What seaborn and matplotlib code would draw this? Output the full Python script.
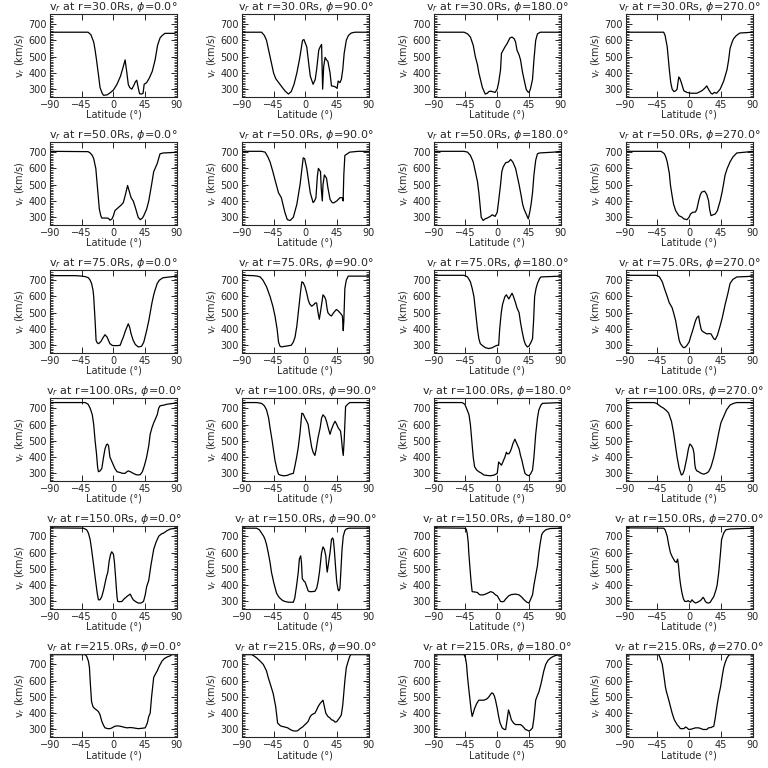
import pandas as pd
import matplotlib
matplotlib.use("Agg")
import matplotlib.pyplot as plt
import seaborn as sns
from matplotlib.ticker import MultipleLocator

# radial velocity profiles v_r(latitude), one list per panel
radii = [30, 50, 75, 100, 150, 215]
phis = [0, 90, 180, 270]

r30_phi0 = [(-90, 650), (-36, 650), (-32, 635), (-28, 590), (-26, 540), (-24, 480), (-21, 380), (-19, 310),
            (-16, 275), (-14, 262), (-9, 265), (-4, 280), (0, 295), (5, 330), (10, 380), (14, 440), (16.5, 480),
            (19, 400), (21, 330), (23, 310), (26, 300), (29, 325), (31, 345), (33, 355), (35.5, 300), (37, 272),
            (40, 270), (42, 275), (43.5, 330), (47, 340), (51, 370), (55, 410), (59, 480), (62.5, 570), (66, 615),
            (69, 630), (73, 643), (80, 643), (86, 643), (90, 650)]
r30_phi90 = [(-90, 650), (-62, 650), (-58, 630), (-55, 600), (-50, 500), (-45, 400), (-42, 365), (-36, 330),
             (-29, 290), (-24, 270), (-20, 285), (-16, 330), (-12, 400), (-8, 490), (-4, 600), (-2, 605), (2, 560),
             (5, 450), (7, 380), (11, 330), (14, 360), (16, 420), (19, 540), (21, 560), (23, 575), (24.5, 300),
             (26, 440), (28, 495), (30, 480), (32, 470), (35, 400), (37, 320), (40, 318), (42, 315), (45, 305),
             (46.5, 350), (49, 340), (51, 360), (53, 420), (55, 520), (58, 600), (61, 630), (65, 645), (70, 650),
             (90, 650)]
r30_phi180 = [(-90, 650), (-47, 650), (-42, 640), (-38, 620), (-34, 570), (-31, 500), (-28, 450), (-26, 400),
              (-21, 310), (-17, 270), (-14, 275), (-12, 285), (-9, 288), (-7, 285), (-3, 280), (0, 300), (2, 340),
              (4.7, 420), (6, 520), (8.5, 540), (11, 560), (14, 580), (18, 615), (21, 620), (24, 610), (26, 590),
              (28, 540), (31, 510), (33, 480), (36, 400), (38, 360), (41, 300), (43, 285), (45, 280), (47, 300),
              (50, 360), (52, 480), (54.5, 600), (57, 640), (61, 650), (90, 650)]
r30_phi270 = [(-90, 650), (-36, 650), (-34, 630), (-31, 560), (-28, 420), (-26, 340), (-24, 300), (-21.5, 285),
              (-19, 290), (-17, 300), (-15.5, 350), (-14.6, 375), (-13, 365), (-11, 340), (-7.5, 290), (-3, 280),
              (2, 275), (11, 275), (18, 290), (22, 305), (25, 320), (28, 295), (31, 275), (33, 270), (35.6, 280),
              (39, 275), (41, 285), (44, 300), (49, 350), (53.7, 420), (56, 480), (58, 550), (61, 590), (63, 610),
              (67, 630), (72, 645), (90, 650)]

r50_phi0 = [(-90, 705), (-36, 703), (-33, 695), (-30, 680), (-28, 660), (-25, 600), (-22, 450), (-20, 350),
            (-18, 310), (-16.5, 295), (-10, 295), (-7, 293), (-5, 282), (-2, 290), (0, 310), (2, 340), (7, 360),
            (11, 375), (14, 390), (17, 440), (20, 495), (23, 450), (25, 420), (28, 400), (31, 360), (35, 300),
            (38, 285), (41, 295), (43, 310), (47, 350), (50, 400), (54, 500), (57, 580), (60, 610), (62, 630),
            (66, 690), (71, 695), (85, 698), (90, 700)]
r50_phi90 = [(-90, 705), (-62, 705), (-57, 700), (-53, 670), (-50, 640), (-46, 580), (-43, 530), (-38, 450),
             (-34, 420), (-29, 330), (-25.5, 285), (-21.5, 280), (-17, 300), (-12, 380), (-7.5, 500), (-3, 665),
             (-1, 660), (2, 600), (7, 450), (11, 390), (13, 400), (15, 420), (17, 550), (18.5, 600), (21.5, 580),
             (22.5, 480), (24, 400), (25, 500), (27, 560), (30, 540), (32, 480), (35, 410), (38, 390), (40, 388),
             (44.5, 400), (49, 420), (52.5, 420), (53.5, 400), (54.5, 560), (56, 680), (63, 700), (75, 705),
             (90, 705)]
r50_phi180 = [(-90, 705), (-47, 705), (-42, 700), (-38, 680), (-34, 640), (-31, 580), (-28, 520), (-26, 450),
              (-24, 360), (-22.7, 300), (-20, 280), (-17, 290), (-14, 295), (-10, 305), (-7, 315), (-5, 310),
              (-3, 305), (0, 330), (2, 400), (4.7, 500), (6.5, 580), (8.5, 610), (12, 635), (16, 640), (19, 655),
              (22, 640), (26, 600), (28, 560), (31, 500), (34, 430), (36, 380), (38, 350), (41, 320), (44, 290),
              (46, 330), (48, 380), (50, 450), (52, 560), (54.5, 650), (57, 690), (60, 695), (80, 700), (90, 705)]
r50_phi270 = [(-90, 705), (-40, 705), (-38, 700), (-35, 690), (-33, 670), (-31, 640), (-28, 570), (-26.5, 500),
              (-24, 430), (-22, 380), (-19, 340), (-14.6, 310), (-10, 300), (-7.5, 290), (-3, 285), (0, 300),
              (2, 320), (5, 330), (9, 332), (11, 350), (13.5, 400), (16, 440), (18, 455), (22, 460), (25, 440),
              (27.6, 400), (29, 350), (31, 310), (34, 315), (37, 320), (40, 340), (44, 400), (47, 460), (51, 560),
              (54, 600), (58, 640), (62, 670), (67.6, 695), (80, 700), (90, 705)]

r75_phi0 = [(-90, 728), (-55, 728), (-47, 726), (-40, 722), (-35.5, 715), (-33, 700), (-31, 680), (-29, 640),
            (-28, 600), (-26, 450), (-24.6, 330), (-23, 315), (-21, 310), (-19, 318), (-17.5, 325), (-15, 345),
            (-12, 365), (-9, 350), (-5, 310), (-2, 300), (0, 298), (6, 298), (9.5, 300), (12, 330), (14, 350),
            (17, 390), (21, 432), (23, 410), (25, 370), (28, 330), (31, 305), (35, 290), (38, 292), (40, 295),
            (43, 320), (47, 390), (50, 450), (54.5, 560), (57, 610), (59, 640), (62, 680), (65, 700), (70, 715),
            (80, 720), (90, 725)]
r75_phi90 = [(-90, 730), (-74, 728), (-68, 725), (-64, 720), (-60, 700), (-55, 660), (-50, 600), (-46, 540),
             (-43, 480), (-40, 400), (-38, 320), (-36, 295), (-34, 290), (-30, 293), (-27, 295), (-23, 298),
             (-20, 300), (-17, 320), (-14.6, 350), (-12, 420), (-10, 500), (-7, 620), (-5, 690), (-3, 685),
             (-0.5, 660), (2, 620), (4, 580), (6, 555), (9, 540), (12, 550), (14, 560), (16, 560), (18, 500),
             (19.8, 460), (22, 520), (25, 610), (27, 600), (29, 580), (31, 520), (32, 500), (35, 485), (37, 480),
             (40, 500), (44, 520), (47, 510), (51, 490), (52.5, 480), (53.7, 390), (54.5, 450), (56, 650),
             (58, 700), (60.7, 725), (90, 725)]
r75_phi180 = [(-90, 730), (-47, 730), (-42, 720), (-38, 690), (-35.5, 650), (-33, 600), (-30.5, 500), (-28, 400),
              (-26, 340), (-24, 310), (-20, 295), (-16.5, 285), (-12, 280), (-7, 285), (-3, 295), (0, 300), (2, 300),
              (3.5, 400), (5.7, 500), (7.5, 550), (9.5, 580), (11, 600), (13, 610), (15, 595), (16.5, 585),
              (19, 605), (21, 620), (23, 600), (26, 560), (28, 530), (31, 500), (33, 440), (35.5, 380), (38, 330),
              (40, 305), (42.6, 290), (45, 295), (48, 320), (50, 340), (51.5, 450), (53, 600), (55, 650), (57, 680),
              (60, 710), (62, 720), (90, 725)]
r75_phi270 = [(-90, 730), (-48, 730), (-45, 728), (-42, 720), (-38, 690), (-35, 650), (-31, 600), (-28, 560),
              (-26.5, 550), (-24, 530), (-22, 500), (-19, 450), (-17, 400), (-14, 330), (-12.3, 310), (-9, 290),
              (-7.5, 285), (-5, 290), (-3, 300), (0, 320), (2, 350), (5, 390), (9, 450), (11, 470), (13.5, 480),
              (15, 440), (17, 400), (18, 390), (21, 380), (25, 370), (28, 372), (31, 370), (33, 355), (35, 340),
              (37, 335), (40, 360), (44, 420), (47, 470), (51, 550), (55, 620), (58, 680), (62, 705), (67.6, 720),
              (80, 722), (90, 725)]

r100_phi0 = [(-90, 735), (-40, 735), (-36, 725), (-33, 700), (-30, 660), (-28, 600), (-26, 500), (-24, 420),
             (-22.5, 340), (-21.3, 310), (-19, 315), (-16.5, 330), (-14, 400), (-12, 450), (-10, 475), (-8.5, 480),
             (-7, 470), (-5, 400), (-2, 370), (2, 330), (5, 310), (9.5, 305), (13, 300), (16.5, 300), (19, 310),
             (21, 315), (24, 310), (28, 300), (32, 292), (35, 290), (38, 292), (41, 310), (44, 350), (47, 400),
             (50, 470), (52, 540), (54.5, 580), (57, 610), (62, 660), (64, 700), (66, 715), (72, 720), (76, 725),
             (85, 730), (90, 735)]
r100_phi90 = [(-90, 735), (-69, 735), (-62, 730), (-58, 715), (-55, 690), (-52, 640), (-50, 580), (-47, 500),
              (-45, 440), (-43, 380), (-40, 320), (-38, 295), (-36, 290), (-31, 285), (-26, 287), (-21.5, 295),
              (-17, 300), (-15, 340), (-12.3, 400), (-10, 460), (-7.5, 550), (-5, 670), (-3, 665), (-0.5, 640),
              (2, 620), (4, 600), (6, 540), (9, 460), (11, 430), (13.5, 410), (15, 440), (18, 520), (21, 580),
              (23, 640), (25, 660), (28, 645), (30, 620), (33, 570), (35, 540), (37, 570), (39.7, 600), (42, 620),
              (44, 605), (46.5, 580), (49.8, 560), (51, 520), (52.5, 450), (53.7, 410), (55, 500), (57, 710),
              (60, 725), (63, 735), (90, 735)]
r100_phi180 = [(-90, 735), (-49.7, 735), (-46, 725), (-42.6, 690), (-40, 660), (-38, 600), (-36, 500), (-34, 400),
               (-32, 340), (-29, 320), (-26, 310), (-22, 300), (-19, 290), (-14, 287), (-9.5, 285), (-4, 290),
               (0, 300), (1.2, 340), (2, 370), (4, 360), (6, 350), (8, 370), (10.9, 400), (13, 430), (14.5, 420),
               (16.5, 420), (18, 430), (20, 450), (22, 480), (25, 510), (27, 490), (29, 470), (31, 450), (33, 410),
               (35, 380), (37, 340), (39.3, 300), (42, 290), (45, 285), (47, 295), (50, 320), (52, 400),
               (54.5, 540), (57, 640), (59, 690), (62, 720), (64, 730), (90, 735)]
r100_phi270 = [(-90, 735), (-50, 735), (-46, 730), (-43, 720), (-40, 710), (-36, 700), (-32, 685), (-29, 670),
               (-25, 620), (-22, 550), (-19, 460), (-17, 400), (-14, 330), (-11, 290), (-9, 295), (-6.8, 320),
               (-3, 400), (-1, 450), (1, 480), (3.5, 470), (5.7, 450), (7, 420), (8, 360), (9, 330), (11, 315),
               (13.5, 310), (17, 300), (20.8, 295), (24, 300), (27.6, 310), (31, 340), (35, 400), (38, 460),
               (42, 550), (45, 610), (49, 650), (53, 690), (58, 720), (63, 730), (67.6, 735), (90, 735)]

r150_phi0 = [(-90, 752), (-42.6, 750), (-38, 740), (-35.5, 720), (-33, 680), (-31, 620), (-28, 520), (-26, 450),
             (-23, 350), (-21.3, 310), (-19, 310), (-16.5, 330), (-14, 370), (-12, 410), (-10, 450), (-8, 480),
             (-6, 550), (-4, 590), (-2.4, 605), (0, 590), (1.4, 540), (3, 450), (3.8, 400), (5, 330), (6, 300),
             (9, 298), (12, 300), (15, 315), (19, 330), (23.7, 345), (26, 325), (28, 310), (31, 300), (35, 290),
             (39, 290), (42.6, 300), (45, 340), (47, 390), (50, 430), (53, 520), (57, 620), (60, 660), (64, 700),
             (68, 715), (71, 720), (76, 735), (80.5, 745), (90, 750)]
r150_phi90 = [(-90, 750), (-69, 750), (-65, 740), (-62, 720), (-59, 700), (-57, 680), (-55, 650), (-52.6, 600),
              (-50, 540), (-48, 480), (-45, 420), (-42, 370), (-40.7, 350), (-38, 330), (-36, 320), (-32, 305),
              (-29, 300), (-24, 295), (-17, 295), (-15, 320), (-12.3, 400), (-10, 480), (-8.5, 560), (-6.6, 580),
              (-5.5, 540), (-4.3, 440), (-2, 425), (-0.5, 420), (2, 390), (4, 365), (6, 360), (9, 360),
              (13.5, 362), (16, 380), (18, 420), (20, 480), (22, 560), (23, 600), (25, 635), (27, 620), (29, 580),
              (30, 520), (31, 480), (33, 540), (35, 600), (37, 680), (38.5, 690), (39.7, 680), (41, 620), (43, 500),
              (44.5, 420), (46.5, 370), (47.5, 365), (49, 380), (50.5, 500), (52, 620), (53.7, 700), (56, 735),
              (58, 745), (62, 750), (90, 750)]
r150_phi180 = [(-90, 752), (-47, 750), (-44, 745), (-42.6, 720), (-41, 660), (-40.3, 600), (-38.5, 500), (-37, 420),
               (-35.5, 360), (-32, 358), (-28, 355), (-26, 345), (-24, 340), (-20, 340), (-16.5, 345), (-13, 352),
               (-9.5, 360), (-6, 355), (-2.4, 340), (0, 335), (2, 320), (4.7, 300), (7, 298), (9.5, 300), (12, 315),
               (16.5, 335), (20, 342), (26, 345), (31, 340), (35, 325), (38, 310), (42, 295), (45, 290), (47, 310),
               (50, 340), (52, 400), (54.5, 460), (57, 520), (59, 600), (61, 660), (63, 710), (65, 725),
               (68.7, 740), (75, 748), (90, 750)]
r150_phi270 = [(-90, 752), (-36, 750), (-34, 740), (-31, 700), (-29, 650), (-26.5, 600), (-24, 575), (-22, 560),
               (-20, 545), (-18, 540), (-16.3, 560), (-15, 520), (-13.5, 450), (-12, 400), (-10, 350), (-8, 315),
               (-6.1, 300), (-3, 300), (-1.4, 305), (0, 300), (2, 295), (4, 310), (6, 300), (9, 290), (12, 295),
               (16, 305), (18, 315), (19.8, 325), (21.5, 315), (23, 300), (25, 292), (27.6, 290), (30, 295),
               (32, 310), (35, 330), (38, 370), (39.7, 400), (42, 480), (44.5, 600), (46, 680), (49, 720), (52, 740),
               (58, 745), (90, 750)]

r215_phi0 = [(-90, 760), (-40, 760), (-38, 750), (-35.5, 720), (-34, 680), (-33, 600), (-31, 470), (-29, 440),
             (-27, 430), (-24, 420), (-21.3, 410), (-19, 390), (-16.5, 350), (-14, 325), (-12, 310), (-8, 305),
             (-5, 305), (-2, 310), (2, 320), (6, 322), (9.5, 320), (14, 315), (19, 310), (24, 312), (28, 310),
             (32, 307), (35, 305), (40, 307), (45, 310), (48, 340), (50, 380), (52, 400), (54, 500), (57, 620),
             (60, 645), (62, 660), (65, 690), (68.7, 720), (72, 735), (75.8, 745), (80, 752), (83, 760), (90, 760)]
r215_phi90 = [(-90, 760), (-76, 760), (-72, 750), (-69, 740), (-64, 720), (-59.6, 700), (-55, 660), (-52.6, 620),
              (-49, 570), (-45.5, 520), (-42, 440), (-39.3, 340), (-36, 325), (-34, 320), (-29, 315), (-25, 310),
              (-21.5, 300), (-18, 293), (-14.6, 290), (-11, 292), (-7.5, 305), (-4, 315), (-0.5, 330), (2, 340),
              (4, 350), (7, 380), (9, 390), (11, 395), (13.5, 400), (16, 420), (18, 440), (21, 460), (23, 470),
              (25, 480), (27, 440), (29, 400), (32, 380), (35, 370), (37, 360), (40, 355), (42, 345), (44.5, 348),
              (46.5, 360), (49, 375), (51, 390), (53, 450), (56, 600), (58, 680), (60.7, 720), (63, 750),
              (64.5, 760), (90, 760)]
r215_phi180 = [(-90, 760), (-47, 760), (-45, 740), (-43.5, 700), (-42, 620), (-40.3, 550), (-38.5, 480), (-37, 420),
               (-35.5, 380), (-34, 400), (-32, 430), (-29, 460), (-26, 480), (-22, 480), (-19, 480), (-16, 485),
               (-14, 490), (-11, 505), (-9.5, 515), (-7.5, 525), (-5.7, 520), (-4, 505), (-2.4, 480), (0, 430),
               (2, 380), (4, 340), (7, 310), (10, 300), (12, 300), (13, 330), (14, 360), (16, 420), (17.5, 400),
               (20, 360), (23, 340), (26, 330), (29, 330), (33, 330), (36, 320), (40, 300), (43, 295), (45, 290),
               (47, 295), (50, 310), (52, 370), (54.5, 480), (57, 510), (59, 530), (62, 580), (64, 620), (66, 660),
               (68.7, 700), (72, 725), (75.8, 740), (80, 750), (83, 755), (90, 760)]
r215_phi270 = [(-90, 760), (-43, 760), (-41, 740), (-38, 700), (-36, 640), (-33.5, 560), (-32, 530), (-30, 500),
               (-27, 450), (-24, 400), (-21, 360), (-17, 330), (-14, 315), (-12.3, 305), (-7.5, 305), (-5, 315),
               (-3, 310), (-0.5, 300), (3, 302), (9, 310), (13.5, 310), (17, 305), (19.8, 300), (25, 300),
               (27.6, 310), (31, 312), (35, 320), (37, 370), (39.7, 450), (42, 510), (44.5, 560), (47, 630),
               (49, 680), (51, 710), (53.7, 740), (56, 755), (58, 760), (90, 760)]

profiles = [
    [r30_phi0, r30_phi90, r30_phi180, r30_phi270],
    [r50_phi0, r50_phi90, r50_phi180, r50_phi270],
    [r75_phi0, r75_phi90, r75_phi180, r75_phi270],
    [r100_phi0, r100_phi90, r100_phi180, r100_phi270],
    [r150_phi0, r150_phi90, r150_phi180, r150_phi270],
    [r215_phi0, r215_phi90, r215_phi180, r215_phi270],
]

sns.set_style("ticks")
plt.rcParams['font.family'] = ['DejaVu Sans']
plt.rcParams['axes.linewidth'] = 0.8

fig, axes = plt.subplots(6, 4, figsize=(7.68, 7.68), dpi=100)
fig.subplots_adjust(left=0.065, right=0.98, top=0.982, bottom=0.04, wspace=0.51, hspace=0.54)

for i, r in enumerate(radii):
    for j, phi in enumerate(phis):
        ax = axes[i, j]
        df = pd.DataFrame(profiles[i][j], columns=['lat', 'v'])
        sns.lineplot(data=df, x='lat', y='v', ax=ax, color='black', linewidth=0.9,
                     estimator=None, sort=False)
        ax.set_xlim(-90, 90)
        ax.set_ylim(252, 763)
        ax.set_xticks([-90, -45, 0, 45, 90])
        ax.set_yticks([300, 400, 500, 600, 700])
        ax.yaxis.set_minor_locator(MultipleLocator(10))
        ax.tick_params(which='both', direction='in', top=True, right=True, labelsize=7, pad=2)
        ax.tick_params(which='major', length=4, width=0.7)
        ax.tick_params(which='minor', length=2, width=0.6)
        ax.set_title(f'v$_r$ at r={r:.1f}Rs, $\\phi$={phi:.1f}°', fontsize=8, pad=3)
        ax.set_xlabel('Latitude (°)', fontsize=7, labelpad=0)
        ax.set_ylabel('v$_r$ (km/s)', fontsize=7, labelpad=1)

fig.savefig('out.png', dpi=100)
